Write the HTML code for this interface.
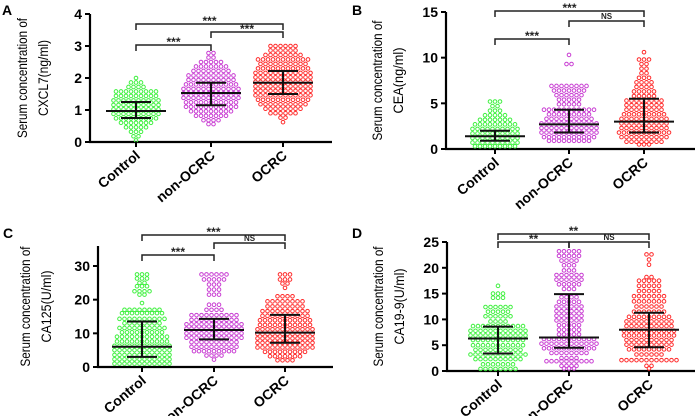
<!DOCTYPE html>
<html><head><meta charset="utf-8"><style>
body{margin:0;background:#fff}
svg{display:block;font-family:"Liberation Sans",Arial,sans-serif}
</style></head><body>
<svg id="fig" width="697" height="416" viewBox="0 0 697 416"></svg>
<script>
const categories=["Control","non-OCRC","OCRC"];
const colors=["#3ef03e","#c83cd2","#ff2a2a"];
// Panel A CXCL7 rows: [value,count]
const aControl=[[2.0,1],[1.86,3],[1.72,4],[1.58,9],[1.44,9],[1.3,10],[1.16,10],[1.02,10],[0.88,10],[0.74,9],[0.6,7],[0.46,5],[0.32,3],[0.18,2],[0.05,1]];
const aNon=[[2.78,2],[2.64,2],[2.5,5],[2.36,7],[2.22,8],[2.08,10],[1.94,10],[1.8,11],[1.66,12],[1.52,12],[1.38,12],[1.24,11],[1.1,11],[0.96,9],[0.82,7],[0.68,4],[0.56,2]];
const aOcrc=[[3.0,6],[2.86,6],[2.72,8],[2.58,11],[2.44,10],[2.3,11],[2.16,12],[2.02,12],[1.88,12],[1.74,12],[1.6,12],[1.46,12],[1.32,11],[1.18,10],[1.04,8],[0.9,6],[0.76,2],[0.62,1]];
const aStats=[[0.97,0.75,1.25],[1.53,1.15,1.85],[1.85,1.5,2.22]];
const aTicks=[0,1,2,3,4];
// Panel B CEA
const bControl=[[5.2,3],[4.7,2],[4.2,3],[3.7,5],[3.2,7],[2.7,9],[2.2,10],[1.7,10],[1.2,10],[0.7,10],[0.3,9]];
const bNon=[[10.3,1],[9.3,2],[6.9,8],[6.4,7],[5.9,6],[5.4,5],[4.9,5],[4.3,11],[3.8,9],[3.3,10],[2.8,12],[2.3,12],[1.8,12],[1.3,11],[0.9,9]];
const bOcrc=[[10.6,1],[9.8,3],[9.3,2],[8.8,2],[8.3,2],[7.8,3],[7.3,4],[6.8,4],[6.3,5],[5.8,5],[5.3,8],[4.8,8],[4.3,8],[3.8,9],[3.3,10],[2.8,10],[2.3,10],[1.8,11],[1.3,10],[0.8,8],[0.5,3]];
const bStats=[[1.4,0.9,2.0],[2.7,1.8,4.3],[3.0,1.8,5.5]];
const bTicks=[0,5,10,15];
// Panel C CA125
const cControl=[[27.5,3],[26.3,3],[25,2],[24,3],[22.5,4],[21.5,2],[19,1],[17,8],[16,9],[14.3,10],[13,8],[11.6,10],[10.3,9],[9,11],[7.6,11],[6.3,12],[5,12],[3.6,12],[2.3,12],[1,12]];
const cNon=[[27.5,6],[26,5],[24.5,3],[23,3],[21.5,3],[18.5,3],[17,4],[15.4,10],[14,10],[12.7,12],[11.4,12],[10,12],[8.7,12],[7.4,10],[6,10],[4.7,9],[3.4,4],[2.2,1]];
const cOcrc=[[27.5,3],[26,3],[24.8,2],[23.5,1],[21,4],[19.5,8],[18,8],[16.6,10],[15.2,10],[13.9,11],[12.5,11],[11.2,12],[9.8,12],[8.5,12],[7.2,12],[5.8,12],[4.5,9],[3.2,7],[2,4]];
const cStats=[[6,3,13.5],[11,8.2,14.3],[10.2,7.2,15.5]];
const cTicks=[0,10,20,30];
// Panel D CA19-9
const dControl=[[16.5,1],[15,3],[14.2,3],[12.4,6],[11.5,5],[10.6,6],[9.6,4],[8.7,11],[7.8,12],[6.9,12],[6,11],[5,11],[4.1,10],[3.2,12],[2.3,10],[1.3,7],[0.4,8]];
const dNon=[[23.2,5],[22.3,5],[21.4,4],[20.5,3],[19.5,3],[18.6,6],[17.7,6],[16.8,5],[15.9,3],[14.3,4],[13.4,5],[12.5,6],[11.6,6],[10.7,6],[9.8,6],[8.9,5],[8,5],[7.1,5],[6.2,11],[5.3,12],[4.4,11],[3.5,8],[2.5,4],[1.9,10],[1,4],[0.5,3]];
const dOcrc=[[22.6,2],[21.6,1],[20.6,1],[18.2,2],[17.5,5],[16.5,5],[15.5,5],[14.5,7],[13.5,7],[12.5,6],[11.5,7],[10.5,9],[9.6,10],[8.7,10],[7.8,11],[6.9,11],[6,10],[5.1,10],[4.2,9],[3.2,6],[2.1,12],[1,2],[0.5,1]];
const dStats=[[6.3,3.4,8.6],[6.5,4.5,14.9],[8,4.6,11.3]];
const dTicks=[0,5,10,15,20,25];

const NS="http://www.w3.org/2000/svg";
const svg=document.getElementById('fig');
function mk(tag,attrs,parent,text){const e=document.createElementNS(NS,tag);for(const k in attrs)e.setAttribute(k,attrs[k]);if(text!==undefined)e.textContent=text;(parent||svg).appendChild(e);return e;}

function panel(cfg){
  const g=mk('g',{});
  
  
  const y=v=>cfg.y0-(v/cfg.max)*(cfg.y0-cfg.yTop);
  const lt=mk('text',{x:cfg.lx,y:cfg.ly,'font-size':14,'font-weight':'bold'},g,cfg.letter);
  
  
  const ya=mk('line',{x1:cfg.ax,y1:cfg.axTop,x2:cfg.ax,y2:cfg.y0,stroke:'#000','stroke-width':2.2},g);
  
  
  const xa=mk('line',{x1:cfg.ax-1,y1:cfg.y0,x2:cfg.axRight,y2:cfg.y0,stroke:'#000','stroke-width':2.2},g);
  
  
  cfg.ticks.forEach(t=>{
    mk('line',{x1:cfg.ax-5,y1:y(t),x2:cfg.ax,y2:y(t),stroke:'#000','stroke-width':2},g);
    const tl=mk('text',{x:cfg.ax-8,y:y(t)+5,'font-size':14,'font-weight':'bold','text-anchor':'end'},g,String(t));
    
    
  });
  const ty=(cfg.y0+cfg.axTop)/2;
  const t1=mk('text',{transform:`translate(${cfg.tx},${ty}) rotate(-90)`,'font-size':14,'text-anchor':'middle',textLength:120,lengthAdjust:'spacingAndGlyphs'},g,'Serum concentration of');
  
  
  const t2=mk('text',{transform:`translate(${cfg.tx+21},${ty}) rotate(-90)`,'font-size':14,'text-anchor':'middle',textLength:cfg.ul,lengthAdjust:'spacingAndGlyphs'},g,cfg.unit);
  
  
  cfg.groups.forEach((rows,gi)=>{
    const cx=cfg.cx[gi];
    rows.forEach(([v,n])=>{
      for(let i=0;i<n;i++){
        const off=(i-(n-1)/2)*5;
        const c=mk('circle',{cx:cx+off,cy:y(v),r:1.8,fill:'none',stroke:colors[gi],'stroke-width':1},g);
        
        
      }
    });
    mk('line',{x1:cx,y1:cfg.y0,x2:cx,y2:cfg.y0+5,stroke:'#000','stroke-width':2},g);
    const cl=mk('text',{transform:`translate(${cx+5},${cfg.y0+15}) rotate(-40)`,'font-size':14,'font-weight':'bold','text-anchor':'end'},g,categories[gi]);
    
    
  });
  cfg.stats.forEach(([m,q1,q3],gi)=>{
    const cx=cfg.cx[gi];
    const eg=mk('g',{stroke:'#111','stroke-width':2},g);
    
    
    mk('line',{x1:cx-30,y1:y(m),x2:cx+30,y2:y(m)},eg);
    mk('line',{x1:cx,y1:y(q1),x2:cx,y2:y(q3)},eg);
    mk('line',{x1:cx-15,y1:y(q1),x2:cx+15,y2:y(q1)},eg);
    mk('line',{x1:cx-15,y1:y(q3),x2:cx+15,y2:y(q3)},eg);
  });
  cfg.brackets.forEach(([a,b,by,lab])=>{
    const x1=cfg.cx[a],x2=cfg.cx[b];
    const bg=mk('g',{},g);
    
    
    mk('path',{d:`M${x1},${by+6}V${by}H${x2}V${by+6}`,fill:'none',stroke:'#222','stroke-width':1.5},bg);
    mk('text',{x:(x1+x2)/2,y:lab==='NS'?by-2:by+1,'font-size':lab==='NS'?8:12,'font-weight':'bold','text-anchor':'middle',fill:'#222'},bg,lab);
  });
}
panel({letter:'A',lx:2,ly:15,ax:90,axTop:14,axRight:332,y0:142,yTop:14,max:4,ticks:aTicks,tx:27,unit:'CXCL7(ng/ml)',ul:76,
  cx:[136,211,283],groups:[aControl,aNon,aOcrc],stats:aStats,brackets:[[0,2,24,'***'],[1,2,32,'***'],[0,1,45,'***']]});
panel({letter:'B',lx:352,ly:15,ax:446,axTop:12,axRight:695,y0:149,yTop:12,max:15,ticks:bTicks,tx:382,unit:'CEA(ng/ml)',ul:66,
  cx:[495,569,644],groups:[bControl,bNon,bOcrc],stats:bStats,brackets:[[0,2,11,'***'],[1,2,21,'NS'],[0,1,39,'***']]});
panel({letter:'C',lx:3,ly:238,ax:98,axTop:246,axRight:333,y0:367,yTop:266,max:30,ticks:cTicks,tx:30,unit:'CA125(U/ml)',ul:72,
  cx:[142,214,285],groups:[cControl,cNon,cOcrc],stats:cStats,brackets:[[0,2,235,'***'],[1,2,243,'NS'],[0,1,255,'***']]});
panel({letter:'D',lx:352,ly:238,ax:447,axTop:242,axRight:695,y0:371,yTop:242,max:25,ticks:dTicks,tx:383,unit:'CA19-9(U/ml)',ul:76,
  cx:[498,569,649],groups:[dControl,dNon,dOcrc],stats:dStats,brackets:[[0,2,234,'**'],[0,1,242,'**'],[1,2,242,'NS']]});
</script>
</body></html>
